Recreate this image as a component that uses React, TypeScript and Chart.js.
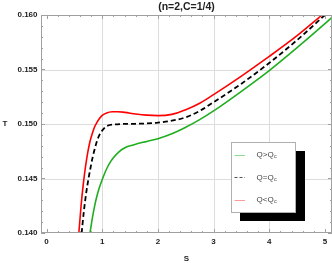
import React, { useEffect, useRef } from 'react';
import { Chart, registerables } from 'chart.js';
Chart.register(...registerables);

// ---- data (S, T) ----
const GREEN_S = [0.78, 0.82, 0.86, 0.90, 0.95, 1.00, 1.05, 1.10, 1.15, 1.20, 1.30, 1.40, 1.50, 1.60, 1.80, 2.00, 2.25, 2.50, 2.75, 3.00, 3.50, 4.00, 4.50, 5.00, 5.13];
const GREEN_T = [0.1400, 0.1413, 0.1424, 0.1433, 0.1442, 0.1449, 0.14555, 0.1461, 0.14655, 0.1469, 0.14745, 0.1478, 0.1480, 0.14815, 0.1484, 0.14865, 0.1491, 0.1497, 0.1504, 0.1512, 0.1530, 0.1549, 0.1570, 0.1592, 0.1598];

const BLACK_S = [0.63, 0.67, 0.71, 0.75, 0.79, 0.83, 0.87, 0.91, 0.95, 1.00, 1.05, 1.10, 1.20, 1.35, 1.60, 1.80, 2.00, 2.25, 2.50, 2.75, 3.00, 3.50, 4.00, 4.50, 5.00];
const BLACK_T = [0.1400, 0.1420, 0.1436, 0.1449, 0.1460, 0.1470, 0.1478, 0.1485, 0.1490, 0.1494, 0.1497, 0.14985, 0.14995, 0.1500, 0.15002, 0.15005, 0.15012, 0.15030, 0.15062, 0.1512, 0.1520, 0.1537, 0.1556, 0.1577, 0.1600];

const RED_S = [0.58, 0.62, 0.66, 0.70, 0.74, 0.78, 0.82, 0.86, 0.90, 0.95, 1.00, 1.08, 1.18, 1.28, 1.40, 1.60, 1.80, 2.00, 2.25, 2.50, 2.75, 3.00, 3.50, 4.00, 4.50, 4.95];
const RED_T = [0.1400, 0.1425, 0.1445, 0.1461, 0.1474, 0.1484, 0.1491, 0.1497, 0.1501, 0.1505, 0.1508, 0.15102, 0.15112, 0.15113, 0.15107, 0.15092, 0.15081, 0.15077, 0.15088, 0.1513, 0.1519, 0.1527, 0.1544, 0.1562, 0.1581, 0.1600];

const X_TICKS = [0, 1, 2, 3, 4, 5];
const Y_TICKS = [0.140, 0.145, 0.150, 0.155, 0.160];
const X_GRID = [1, 2, 3, 4];
const Y_GRID = [0.145, 0.150, 0.155];
const LEGEND_LABELS = ['Q>Q', 'Q=Q', 'Q<Q'];
const LEGEND_SUB = 'c';
const TITLE = '(n=2,C=1/4)';
const X_TITLE = 'S';
const Y_TITLE = 'T';

const FONT = '"Liberation Sans", Arial, sans-serif';

const toPts = (xs: number[], ys: number[]) => xs.map((v, i) => ({ x: v, y: ys[i] }));

const framePlugin = {
  id: 'mmaFrame',
  beforeDatasetsDraw(chart: any) {
    const { ctx, chartArea: a, scales } = chart;
    const x = scales.x, y = scales.y;
    ctx.save();
    ctx.strokeStyle = '#dcdcdc';
    ctx.lineWidth = 1;
    ctx.beginPath();
    for (const v of X_GRID) {
      const px = Math.round(x.getPixelForValue(v)) + 0.5;
      ctx.moveTo(px, a.top); ctx.lineTo(px, a.bottom);
    }
    for (const v of Y_GRID) {
      const py = Math.round(y.getPixelForValue(v)) + 0.5;
      ctx.moveTo(a.left, py); ctx.lineTo(a.right, py);
    }
    ctx.stroke();
    ctx.restore();
  },
  afterDatasetsDraw(chart: any) {
    const { ctx, chartArea: a, scales } = chart;
    const x = scales.x, y = scales.y;
    ctx.save();
    // frame
    ctx.strokeStyle = '#a0a0a0';
    ctx.lineWidth = 1;
    ctx.strokeRect(a.left + 0.5, a.top + 0.5, a.right - a.left - 1, a.bottom - a.top - 1);
    // ticks
    ctx.beginPath();
    for (let i = 0; i <= 25; i++) {
      const v = i * 0.2;
      const len = i % 5 === 0 ? 4 : 2;
      const px = Math.round(x.getPixelForValue(v)) + 0.5;
      ctx.moveTo(px, a.bottom); ctx.lineTo(px, a.bottom - len);
      ctx.moveTo(px, a.top); ctx.lineTo(px, a.top + len);
    }
    for (let i = 0; i <= 20; i++) {
      const v = 0.140 + i * 0.001;
      const len = i % 5 === 0 ? 4 : 2;
      const py = Math.round(y.getPixelForValue(v)) + 0.5;
      ctx.moveTo(a.left, py); ctx.lineTo(a.left + len, py);
      ctx.moveTo(a.right, py); ctx.lineTo(a.right - len, py);
    }
    ctx.stroke();

    // axis titles
    ctx.fillStyle = '#222';
    ctx.font = `bold 8px ${FONT}`;
    ctx.textAlign = 'center';
    ctx.textBaseline = 'middle';
    ctx.fillText(Y_TITLE, 5, (a.top + a.bottom) / 2);
    ctx.fillText(X_TITLE, (a.left + a.right) / 2, 258.5);

    // legend
    const bx = 231, by = 142, bw = 65, bh = 71;
    ctx.fillStyle = '#000';
    ctx.fillRect(240, 151, 65, 70);
    ctx.fillStyle = '#fff';
    ctx.fillRect(bx, by, bw, bh);
    ctx.strokeStyle = '#b0b0b0';
    ctx.strokeRect(bx + 0.5, by + 0.5, bw - 1, bh - 1);
    const rows = [154.7, 177.3, 199.7];
    const cols = ['#8fd98f', '#555555', '#ff9a9a'];
    rows.forEach((ry, i) => {
      ctx.beginPath();
      ctx.strokeStyle = cols[i];
      ctx.lineWidth = 1;
      ctx.setLineDash(i === 1 ? [3, 2] : []);
      ctx.moveTo(234.5, Math.round(ry) + 0.5);
      ctx.lineTo(245, Math.round(ry) + 0.5);
      ctx.stroke();
      ctx.setLineDash([]);
      ctx.fillStyle = '#444';
      ctx.textAlign = 'left';
      ctx.textBaseline = 'middle';
      ctx.font = `8px ${FONT}`;
      const t = LEGEND_LABELS[i];
      ctx.fillText(t, 256.5, ry);
      const w = ctx.measureText(t).width;
      ctx.font = `5.5px ${FONT}`;
      ctx.fillText(LEGEND_SUB, 256.5 + w + 0.3, ry + 2);
    });
    ctx.restore();
  },
};

export default function App() {
  const ref = useRef<HTMLCanvasElement | null>(null);
  useEffect(() => {
    document.body.style.margin = '0';
    const canvas = ref.current!;
    const common = { pointRadius: 0, cubicInterpolationMode: 'monotone', fill: false };
    const chart = new Chart(canvas, {
      type: 'line',
      data: {
        datasets: [
          { label: 'Q>Qc', data: toPts(GREEN_S, GREEN_T), borderColor: '#1fae1f', borderWidth: 1.6, ...common },
          { label: 'Q=Qc', data: toPts(BLACK_S, BLACK_T), borderColor: '#000', borderWidth: 1.8, borderDash: [5, 3], ...common },
          { label: 'Q<Qc', data: toPts(RED_S, RED_T), borderColor: '#ff0000', borderWidth: 1.6, ...common },
        ],
      },
      options: {
        responsive: false,
        animation: false,
        layout: { padding: 0 },
        plugins: {
          legend: { display: false },
          tooltip: { enabled: false },
          title: {
            display: true,
            text: TITLE,
            fullSize: false,
            color: '#222',
            font: { size: 10.5, weight: 'bold', family: FONT },
            padding: { top: 1, bottom: 1.4 },
          },
        },
        scales: {
          x: {
            type: 'linear',
            min: -0.1,
            max: 5.127,
            grid: { display: false, drawTicks: false },
            border: { display: false },
            afterFit: (s: any) => { s.height = 30; },
            afterBuildTicks: (s: any) => { s.ticks = X_TICKS.map((v) => ({ value: v })); },
            ticks: {
              padding: 4,
              color: '#222',
              font: { size: 8, weight: 'bold', family: FONT },
              maxRotation: 0,
              callback: (v: any) => String(v),
            },
          },
          y: {
            type: 'linear',
            min: 0.140,
            max: 0.160,
            grid: { display: false, drawTicks: false },
            border: { display: false },
            afterFit: (s: any) => { s.width = 41; },
            afterBuildTicks: (s: any) => { s.ticks = Y_TICKS.map((v) => ({ value: v })); },
            ticks: {
              padding: 3.5,
              color: '#222',
              font: { size: 8, weight: 'bold', family: FONT },
              callback: (v: any) => Number(v).toFixed(3),
            },
          },
        },
      },
      plugins: [framePlugin],
    } as any);
    return () => chart.destroy();
  }, []);
  return (
    <div style={{ width: 332, height: 263 }}>
      <canvas ref={ref} width={332} height={263} style={{ display: 'block' }} />
    </div>
  );
}
